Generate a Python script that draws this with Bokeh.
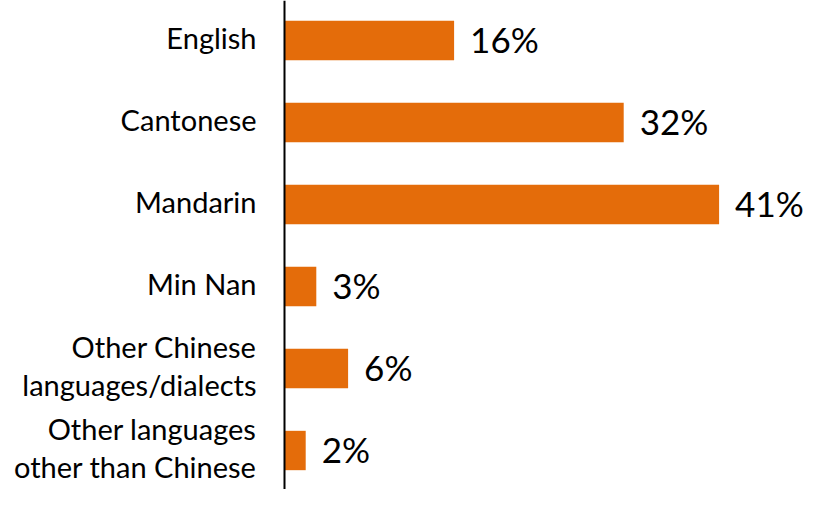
from bokeh.plotting import figure
from bokeh.models import ColumnDataSource, Range1d, Span
from bokeh.core.properties import value
from bokeh.embed import file_html
from bokeh.resources import INLINE

categories = ["English", "Cantonese", "Mandarin", "Min Nan",
              "Other Chinese\nlanguages/dialects",
              "Other languages\nother than Chinese"]
shares = [16, 32, 41, 3, 6, 2]
value_labels = ["16%", "32%", "41%", "3%", "6%", "2%"]

ORANGE = "#E46C0A"
FONT = "Lato"

positions = list(range(len(categories)))
src = ColumnDataSource(dict(pos=positions, share=shares, cat=categories,
                            lab=value_labels, zero=[0] * len(shares)))

W, H = 804, 489
scale = 10.6
origin = 284.0
x_start = -origin / scale
x_end = (W - origin) / scale
spacing = 82.0
top_px = 40.0
y_top = -top_px / spacing
y_bottom = (len(categories) - 1) + (H - (top_px + spacing * (len(categories) - 1))) / spacing

p = figure(width=W, height=H, output_backend="svg", toolbar_location=None,
           x_range=Range1d(x_start, x_end), y_range=Range1d(y_bottom, y_top),
           x_axis_location=None, y_axis_location=None, min_border=0)
p.grid.visible = False
p.outline_line_color = None
p.background_fill_color = "white"
p.border_fill_color = "white"

p.hbar(y="pos", left="zero", right="share", height=0.48, source=src,
       fill_color=ORANGE, line_color=None)

p.add_layout(Span(location=0, dimension="height", line_color="black", line_width=2))

p.text(x="zero", y="pos", text="cat", source=src, x_offset=-28, y_offset=-3,
       text_align="right", text_baseline="middle", text_font=value(FONT),
       text_font_size="29px", text_color="black", text_line_height=1.07)

p.text(x="share", y="pos", text="lab", source=src, x_offset=16, y_offset=-2,
       text_align="left", text_baseline="middle", text_font=value(FONT),
       text_font_size="35px", text_color="black")

open("out.html", "w").write(file_html(p, INLINE))
